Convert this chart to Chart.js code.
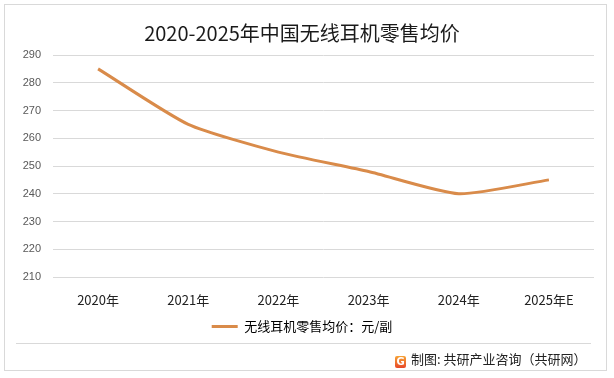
<!DOCTYPE html>
<html>
<head>
<meta charset="utf-8">
<script src="https://cdn.jsdelivr.net/npm/chart.js@4/dist/chart.umd.min.js"></script>
<style>
  html, body { margin: 0; padding: 0; background: #fff; }
  body { width: 614px; height: 378px; position: relative; overflow: hidden; font-family: "Noto Sans CJK SC", "Noto Sans", sans-serif; }
  #frame { position: absolute; left: 4px; top: 4px; width: 603px; height: 367px; border: 1px solid #d9d9d9; box-sizing: border-box; }
  #wrap { position: absolute; left: 0; top: 0; width: 614px; height: 378px; }
  #sep { position: absolute; left: 16px; top: 343px; width: 575px; height: 1px; background: #d9d9d9; }
  #footer { position: absolute; left: 395px; top: 350px; height: 18px; font-size: 13px; color: #222; line-height: 18px; white-space: nowrap; }
  #logo { display: inline-block; width: 11px; height: 12px; border-radius: 2px; vertical-align: -1px; margin-right: 5px;
          background: linear-gradient(180deg, #f6a234, #e8492a); color: #fff; font-size: 10px; line-height: 12px; text-align: center; font-weight: bold; font-family: "DejaVu Sans", sans-serif; }
</style>
</head>
<body>
<div id="frame"></div>
<div id="wrap"><canvas id="c" width="614" height="378"></canvas></div>
<div id="sep"></div>
<div id="footer"><span id="logo">G</span>制图: 共研产业咨询（共研网）</div>
<script>
const titleText = "2020-2025年中国无线耳机零售均价";
const categories = ["2020年", "2021年", "2022年", "2023年", "2024年", "2025年E"];
const seriesName = "无线耳机零售均价：元/副";
const prices = [285, 265, 255, 248, 240, 245];
const yMin = 210, yMax = 290, yStep = 10;

const ctx = document.getElementById("c").getContext("2d");
new Chart(ctx, {
  type: "line",
  data: {
    labels: categories,
    datasets: [{
      label: seriesName,
      data: prices,
      borderColor: "#d98b4a",
      backgroundColor: "#d98b4a",
      borderWidth: 3,
      pointRadius: 0,
      tension: 0.2,
      fill: false
    }]
  },
  options: {
    responsive: false,
    animation: false,
    devicePixelRatio: 1,
    layout: { padding: { left: 10, right: 20, top: 0, bottom: 35 } },
    plugins: {
      title: {
        display: true,
        text: titleText,
        color: "#1a1a1a",
        font: { family: "'Noto Sans CJK SC'", size: 20, weight: "normal" },
        padding: { top: 21, bottom: 10 }
      },
      legend: {
        display: true,
        position: "bottom",
        labels: {
          color: "#222",
          font: { family: "'Noto Sans CJK SC'", size: 13 },
          boxWidth: 26,
          boxHeight: 3,
          padding: 7,
          generateLabels(chart) {
            const ds = chart.data.datasets[0];
            return [{ text: ds.label, fillStyle: ds.borderColor, strokeStyle: ds.borderColor, lineWidth: 0, datasetIndex: 0 }];
          }
        }
      },
      tooltip: { enabled: false }
    },
    scales: {
      x: {
        type: "category",
        offset: true,
        afterFit(scale) { scale.height = 36; },
        grid: { display: false, drawTicks: false },
        border: { display: false },
        ticks: { color: "#222", font: { family: "'Noto Sans CJK SC'", size: 13 }, padding: 15, maxRotation: 0 }
      },
      y: {
        min: yMin, max: yMax,
        afterFit(scale) { scale.width = 43; },
        grid: { color: "#d9d9d9", lineWidth: 1, drawTicks: false },
        border: { display: false },
        ticks: { stepSize: yStep, color: "#595959", font: { family: "'Liberation Sans', sans-serif", size: 11 }, padding: 12 }
      }
    }
  }
});
</script>
</body>
</html>
